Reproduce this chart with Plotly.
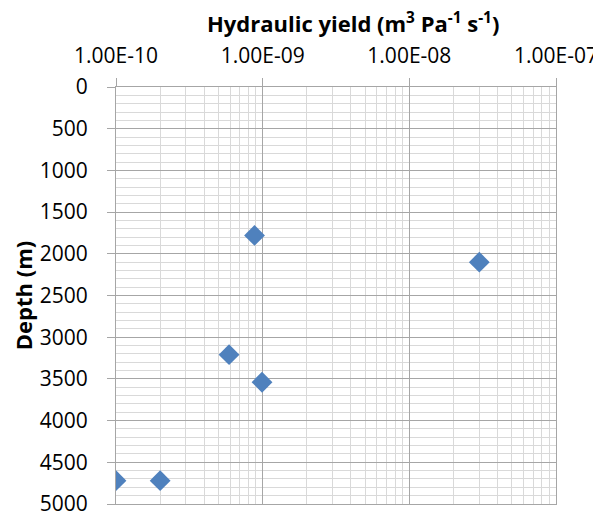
import plotly.graph_objects as go

yield_vals = [8.8e-10, 3.0e-8, 5.9e-10, 9.9e-10, 1.0e-10, 2.0e-10]
depth_vals = [1780, 2100, 3210, 3540, 4720, 4720]
x_tickvals = [1e-10, 1e-9, 1e-8, 1e-7]
x_ticktext = ["1.00E-10", "1.00E-09", "1.00E-08", "1.00E-07"]
y_tickvals = list(range(0, 5001, 500))

FONT = "Open Sans"
major = "#a6a6a6"
minorc = "#d9d9d9"

fig = go.Figure()
fig.add_trace(go.Scatter(
    x=yield_vals, y=depth_vals, mode="markers",
    marker=dict(symbol="diamond", size=16, color="#4f81bd", line=dict(width=0)),
    showlegend=False,
))

# page body has an 8px default margin; compensate
fig.update_layout(
    width=593, height=505,
    margin=dict(l=108, r=45, t=79, b=9, autoexpand=False),
    paper_bgcolor="white", plot_bgcolor="white",
    font=dict(family=FONT, size=21, color="#000000"),
    xaxis=dict(
        type="log", side="top", range=[-10, -7], automargin=False,
        tickvals=x_tickvals, ticktext=x_ticktext, ticklabeloverflow="allow",
        showline=True, linecolor=major, linewidth=1, mirror=True,
        ticks="outside", ticklen=8, tickcolor=major, ticklabelstandoff=7,
        showgrid=True, gridcolor=major, gridwidth=1,
        minor=dict(dtick="D1", showgrid=True, gridcolor=minorc, gridwidth=1, ticks=""),
        zeroline=False,
    ),
    yaxis=dict(
        range=[5000, 0], tickvals=y_tickvals, automargin=False, ticklabeloverflow="allow",
        showline=True, linecolor=major, linewidth=1, mirror=True,
        ticks="outside", ticklen=8, tickcolor=major, ticklabelstandoff=15,
        showgrid=True, gridcolor=major, gridwidth=1,
        minor=dict(dtick=100, showgrid=True, gridcolor=minorc, gridwidth=1, ticks=""),
        zeroline=False,
        title=dict(text="<b>Depth (m)</b>", font=dict(family=FONT, size=22), standoff=8),
    ),
    annotations=[dict(
        text="<b>Hydraulic yield (m<sup>3</sup> Pa<sup>-1</sup> s<sup>-1</sup>)</b>",
        xref="paper", yref="paper", x=0.5375, y=1, yshift=65,
        xanchor="center", yanchor="middle", showarrow=False,
        font=dict(family=FONT, size=22),
    )],
)

fig.write_html("out.html")
